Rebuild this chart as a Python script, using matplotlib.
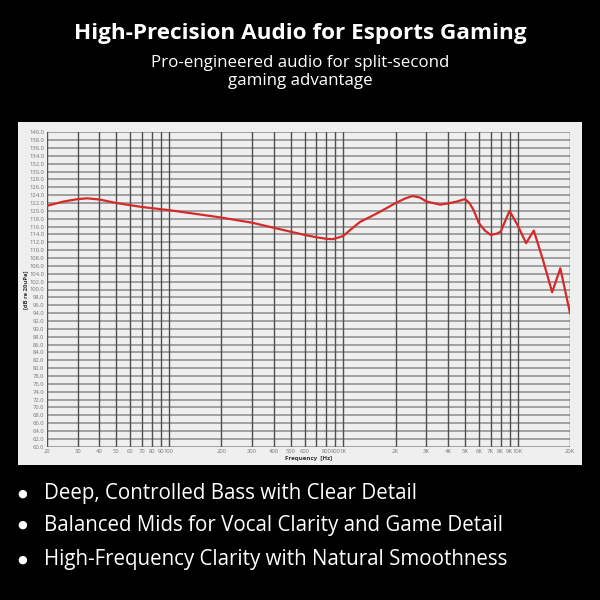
import numpy as np
import matplotlib.pyplot as plt
from matplotlib.patches import Rectangle

# frequency response
freq = [20, 25, 30, 34, 40, 50, 70, 100, 116, 150, 200, 300, 400, 500, 600, 700, 800, 870,
        1000, 1100, 1250, 1430, 1630, 2000, 2250, 2500, 2750, 3000, 3600, 4000, 4500, 5000,
        5300, 5600, 6000, 6500, 7000, 7600, 8000, 9000, 10000, 11200, 12400, 14000, 15800,
        17600, 20000]
spl = [121.3, 122.4, 123.0, 123.2, 122.9, 122.0, 121.0, 120.2, 119.8, 119.1, 118.3, 117.0,
       115.7, 114.7, 113.9, 113.3, 112.9, 112.8, 113.6, 115.2, 117.2, 118.5, 119.8, 122.0,
       123.1, 123.8, 123.4, 122.4, 121.6, 121.9, 122.4, 123.0, 122.0, 120.2, 116.9, 115.0,
       113.9, 114.2, 114.7, 120.0, 116.4, 111.8, 115.0, 107.5, 99.3, 105.4, 94.0]

xticks = [20, 30, 40, 50, 60, 70, 80, 90, 100, 200, 300, 400, 500, 600, 700, 800, 900, 1000,
          2000, 3000, 4000, 5000, 6000, 7000, 8000, 9000, 10000, 20000]
xlabels = ["20", "30", "40", "50", "60", "70", "80", "90", "100", "200", "300", "400", "500",
           "600", "", "800", "900", "1K", "2K", "3K", "4K", "5K", "6K", "7K", "8K", "9K",
           "10K", "20K"]
yticks = np.arange(60, 141, 2)

title = "High-Precision Audio for Esports Gaming"
subtitle = "Pro-engineered audio for split-second\ngaming advantage"
bullets = ["Deep, Controlled Bass with Clear Detail",
           "Balanced Mids for Vocal Clarity and Game Detail",
           "High-Frequency Clarity with Natural Smoothness"]

plt.rcParams['font.family'] = ['Open Sans', 'DejaVu Sans']

fig = plt.figure(figsize=(6, 6), dpi=100, facecolor="black")
W, H = 600, 600

# light panel behind the chart
fig.patches.append(Rectangle((18 / W, 1 - 465 / H), 564 / W, 343 / H,
                             transform=fig.transFigure, facecolor="#efefef",
                             edgecolor="none", zorder=-5))

ax = fig.add_axes([47 / W, 1 - 446.7 / H, 523 / W, 314.4 / H])
ax.set_zorder(2)
ax.set_facecolor("#efefef")
ax.set_xscale("log")
ax.set_xlim(20, 20000)
ax.set_ylim(60, 140)

ax.set_xticks(xticks)
ax.set_xticklabels(xlabels)
ax.xaxis.set_minor_locator(plt.NullLocator())
ax.set_yticks(yticks)
ax.set_yticklabels([f"{v:.1f}" for v in yticks])
ax.tick_params(axis="both", length=0, labelsize=4.2, labelcolor="#777777", pad=2)

for v in yticks:
    ax.axhline(v, color="#9a9a9a", lw=1.3, zorder=1)
for f in xticks:
    ax.axvline(f, color="#505050", lw=1.0, zorder=1)
for s in ax.spines.values():
    s.set_visible(False)

ax.plot(freq, spl, color="#d62a2a", lw=1.6, zorder=3)

ax.set_xlabel("Frequency  [Hz]", fontsize=4.5, fontweight="bold", color="#333333", labelpad=1)
ax.set_ylabel("[dB re 20uPa]", fontsize=4.2, fontweight="bold", color="#333333", labelpad=1)

fig.text(0.5, 1 - 33 / H, title, ha="center", va="center", color="white",
         fontsize=16.2, fontweight="bold")
fig.text(0.5, 1 - 72 / H, subtitle, ha="center", va="center", color="white",
         fontsize=12.2, linespacing=1.1)

for i, (b, yy) in enumerate(zip(bullets, [494, 525, 560])):
    fig.text(22 / W, 1 - yy / H, "\u25CF", ha="center", va="center", color="white", fontsize=8)
    fig.text(44 / W, 1 - yy / H, b, ha="left", va="center", color="white", fontsize=14.8)

fig.savefig("out.png", dpi=100, facecolor="black")
